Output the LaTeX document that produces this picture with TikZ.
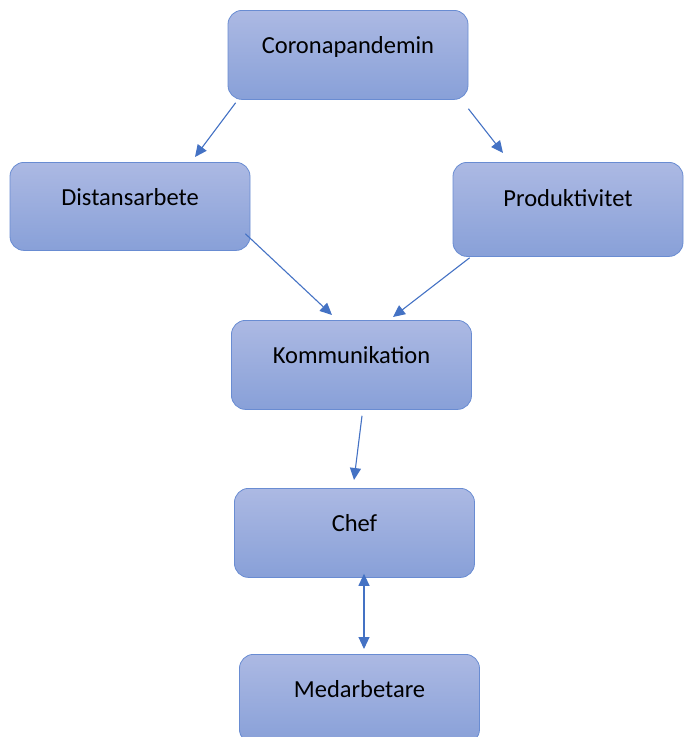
\documentclass[tikz,border=0pt]{standalone}
\usepackage{fontspec}
\setmainfont{Carlito}
\usepackage{tikz}
\usetikzlibrary{arrows.meta}
\definecolor{boxtop}{RGB}{172,185,227}
\definecolor{boxbottom}{RGB}{136,160,216}
\definecolor{boxline}{RGB}{105,140,210}
\definecolor{arrowblue}{RGB}{68,114,196}
\tikzset{
  flowbox/.style={draw=boxline, line width=0.8pt, rounded corners=14pt, top color=boxtop, bottom color=boxbottom,
    minimum width=240pt, inner sep=0pt, text height=43pt, text depth=46pt, anchor=north,
    font=\fontsize{24.5}{29}\selectfont},
  flowarrow/.style={draw=arrowblue, line width=1.1pt, -{Triangle[length=12pt,width=11pt]}},
  bothways/.style={draw=arrowblue, line width=1.1pt, {Triangle[length=12pt,width=11pt]}-{Triangle[length=12pt,width=11pt]}}
}

\begin{document}
\begin{tikzpicture}[x=1pt, y=-1pt]
  \useasboundingbox (0,0) rectangle (684,737);
  % boxes
  \node[flowbox] (corona) at (348,10) {Coronapandemin};
  \node[flowbox, text depth=45pt] (distans) at (130,162) {Distansarbete};
  \node[flowbox, minimum width=230pt, text height=44pt, text depth=50pt] (produkt) at (568,162) {Produktivitet};
  \node[flowbox] (komm) at (351.5,320) {Kommunikation};
  \node[flowbox] (chef) at (354.5,488) {Chef};
  \node[flowbox] (medarb) at (359.5,654) {Medarbetare};
  % arrows
  \draw[flowarrow] ([xshift=8pt,yshift=-3pt]corona.south west) -- ([xshift=65pt,yshift=5pt]distans.north);
  \draw[flowarrow] ([yshift=-9pt]corona.south east) -- ([xshift=-65pt,yshift=9pt]produkt.north);
  \draw[flowarrow] ([xshift=-5pt,yshift=17pt]distans.south east) -- ([xshift=-19.5pt,yshift=5pt]komm.north);
  \draw[flowarrow] ([xshift=17pt,yshift=-1pt]produkt.south west) -- ([xshift=41.5pt,yshift=3pt]komm.north);
  \draw[flowarrow] ([xshift=10.5pt,yshift=-6pt]komm.south) -- ([xshift=-0.5pt,yshift=8pt]chef.north);
  \draw[bothways] ([xshift=9.5pt,yshift=4pt]chef.south) -- ([xshift=4.5pt,yshift=5pt]medarb.north);
\end{tikzpicture}
\end{document}
